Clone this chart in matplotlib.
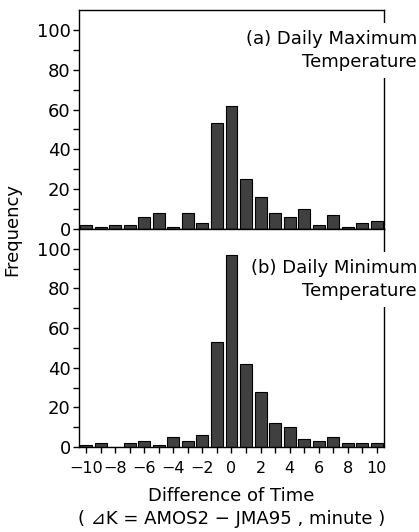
import numpy as np
import matplotlib
matplotlib.use("Agg")
import matplotlib.pyplot as plt

plt.rcParams['font.family'] = ['DejaVu Sans', 'Noto Sans CJK JP']

# difference of time (minute)
diff = [-10, -9, -8, -7, -6, -5, -4, -3, -2, -1, 0, 1, 2, 3, 4, 5, 6, 7, 8, 9, 10]
freq_max = [2, 1, 2, 2, 6, 8, 1, 8, 3, 53, 62, 25, 16, 8, 6, 10, 2, 7, 1, 3, 4]
freq_min = [1, 2, 0, 2, 3, 1, 5, 3, 6, 53, 97, 42, 28, 12, 10, 4, 3, 5, 2, 2, 2]
xticks = [-10, -8, -6, -4, -2, 0, 2, 4, 6, 8, 10]
yticks = [0, 20, 40, 60, 80, 100]

fig = plt.figure(figsize=(4.19, 5.32), dpi=100)
ax1 = fig.add_axes([0.1885, 0.5695, 0.728, 0.4117])
ax2 = fig.add_axes([0.1885, 0.1598, 0.728, 0.4097])

labels = ["(a) Daily Maximum\nTemperature", "(b) Daily Minimum\nTemperature"]
label_y = [0.905, 0.4746]
for ax, f, lab, ly in zip([ax1, ax2], [freq_max, freq_min], labels, label_y):
    ax.bar(diff, f, width=0.82, color='#404040', edgecolor='black', linewidth=0.8)
    ax.set_xlim(-10.5, 10.5)
    ax.set_ylim(0, 110)
    ax.set_xticks(xticks)
    ax.set_xticks(diff, minor=True)
    ax.set_yticks(yticks)
    ax.set_yticks([10, 30, 50, 70, 90], minor=True)
    ax.tick_params(which='both', direction='out', length=4, width=1)
    ax.tick_params(axis='y', labelsize=13, pad=2)
    ax.tick_params(axis='x', labelsize=11.5, pad=6)
    for s in ax.spines.values():
        s.set_linewidth(1)
    # label box hides part of the right spine, like the original
    ax.text(0.995, ly, lab, transform=fig.transFigure, ha='right', va='center',
            multialignment='right', fontsize=13, linespacing=1.35, zorder=5,
            clip_on=False, bbox=dict(facecolor='white', edgecolor='none', pad=5))

ax1.tick_params(axis='x', labelbottom=False)
ax2.set_xlabel("Difference of Time\n( ⊿K = AMOS2 − JMA95 , minute )", fontsize=13,
               labelpad=8, linespacing=1.35)
fig.text(0.03, 0.5695, "Frequency", rotation=90, ha='center', va='center', fontsize=13)

fig.savefig("out.png", dpi=100)
